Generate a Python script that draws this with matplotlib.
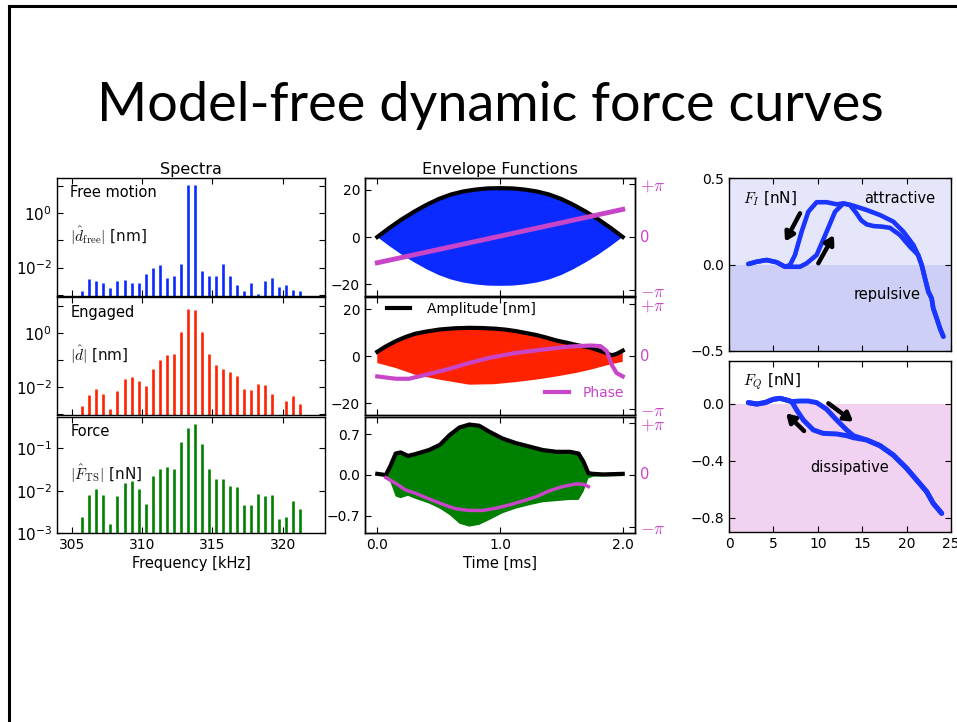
import numpy as np
import matplotlib
matplotlib.use('Agg')
import matplotlib.pyplot as plt
import matplotlib.transforms as mtransforms
from matplotlib.ticker import FixedLocator, FixedFormatter, NullLocator
from matplotlib.lines import Line2D

plt.rcParams['font.family'] = ['DejaVu Sans']
plt.rcParams['mathtext.fontset'] = 'cm'
plt.rcParams['xtick.direction'] = 'in'
plt.rcParams['ytick.direction'] = 'in'
plt.rcParams['xtick.top'] = True
plt.rcParams['ytick.right'] = True
plt.rcParams['xtick.major.size'] = 4
plt.rcParams['ytick.major.size'] = 4
plt.rcParams['xtick.labelsize'] = 10
plt.rcParams['ytick.labelsize'] = 10
plt.rcParams['axes.linewidth'] = 1.0

# ---------------- data ----------------
title = "Model-free dynamic force curves"

freqs = [305.75, 306.25, 306.75, 307.25, 307.75, 308.25, 308.75, 309.25,
         309.75, 310.25, 310.75, 311.25, 311.75, 312.25, 312.75, 313.25,
         313.75, 314.25, 314.75, 315.25, 315.75, 316.25, 316.75, 317.25,
         317.75, 318.25, 318.75, 319.25, 319.75, 320.25, 320.75, 321.25]
spec_free = [1.4e-3, 3.7e-3, 3.2e-3, 2.8e-3, 1.8e-3, 3.3e-3, 3.5e-3, 2.6e-3,
             2.8e-3, 5.9e-3, 1.0e-2, 1.3e-2, 4.0e-3, 5.1e-3, 1.35e-2, 11.0,
             11.0, 7.4e-3, 5.1e-3, 4.8e-3, 1.35e-2, 4.9e-3, 2.2e-3, 1.4e-3,
             2.8e-3, 1.1e-3, 3.2e-3, 4.2e-3, 2.0e-3, 2.2e-3, 1.5e-3, 1.35e-3]
spec_engaged = [2.0e-3, 4.9e-3, 7.9e-3, 5.3e-3, 1.5e-3, 6.9e-3, 1.9e-2, 2.2e-2,
                1.7e-2, 1.1e-2, 4.6e-2, 9.4e-2, 0.145, 0.167, 1.09, 7.5,
                7.1, 1.06, 0.167, 0.065, 0.046, 0.036, 0.024, 7.9e-3,
                7.7e-3, 1.23e-2, 1.15e-2, 5.6e-3, np.nan, 2.9e-3, 4.6e-3, 2.3e-3]
spec_force = [2.4e-3, 7.9e-3, 1.1e-2, 7.7e-3, 1.6e-3, 7.6e-3, 1.55e-2, 1.7e-2,
              1.1e-2, 4.8e-3, 2.2e-2, 3.2e-2, 3.7e-2, 3.3e-2, 0.138, 0.31,
              0.38, 0.13, 3.3e-2, 1.9e-2, 1.9e-2, 1.3e-2, 1.2e-2, 4.5e-3,
              4.6e-3, 8.3e-3, 7.6e-3, 7.9e-3, 2.1e-3, 2.4e-3, 5.8e-3, 3.7e-3]
spec_labels = ["Free motion", "Engaged", "Force"]
spec_ylabels = [r"$|\hat{d}_{\rm free}|$ [nm]", r"$|\hat{d}|$ [nm]",
                r"$|\hat{F}_{\rm TS}|$ [nN]"]

# envelope, free motion
t_free = [0.0, 0.1, 0.2, 0.3, 0.4, 0.5, 0.6, 0.7, 0.8, 0.9, 1.0,
          1.1, 1.2, 1.3, 1.4, 1.5, 1.6, 1.7, 1.8, 1.9, 2.0]
amp_free = [0.0, 3.9, 7.5, 10.7, 13.6, 16.1, 18.0, 19.3, 20.1, 20.6, 20.7,
            20.6, 20.1, 19.3, 18.0, 16.1, 13.6, 10.7, 7.5, 3.9, 0.0]
t_free_ph = [0.0, 1.0, 2.0]
ph_free = [-1.53, 0.05, 1.64]

# envelope, engaged
t_eng = [0.0, 0.07, 0.15, 0.23, 0.31, 0.41, 0.51, 0.63, 0.75, 0.86, 0.97,
         1.05, 1.13, 1.21, 1.30, 1.38, 1.46, 1.55, 1.63, 1.74, 1.84, 1.91,
         1.95, 2.0]
amp_eng = [1.9, 4.2, 6.4, 8.2, 9.6, 10.6, 11.4, 11.9, 12.1, 12.0, 11.7,
           11.3, 10.7, 9.9, 9.0, 7.9, 6.7, 5.7, 4.7, 3.6, 1.9, 0.4,
           1.0, 2.4]
t_eng_lo = [0.0, 0.15, 0.31, 0.51, 0.75, 0.95, 1.13, 1.30, 1.46, 1.62,
            1.74, 1.86, 1.95, 2.0]
lo_eng = [-2.9, -5.0, -7.9, -10.0, -12.1, -11.9, -11.0, -9.9, -8.6, -7.1,
          -5.7, -4.0, -2.9, -2.4]
t_eng_ph = [0.0, 0.15, 0.26, 0.42, 0.59, 0.75, 0.91, 1.13, 1.35, 1.57,
            1.74, 1.82, 1.87, 1.91, 1.95, 2.0]
ph_eng = [-1.2, -1.34, -1.34, -1.06, -0.74, -0.40, -0.10, 0.20, 0.40, 0.58,
          0.64, 0.60, 0.30, -0.50, -1.0, -1.2]

# envelope, force
t_frc = [0.0, 0.07, 0.11, 0.15, 0.19, 0.25, 0.31, 0.42, 0.51, 0.59, 0.67,
         0.75, 0.83, 0.91, 1.02, 1.13, 1.24, 1.35, 1.46, 1.57, 1.64, 1.68,
         1.72, 1.76, 1.84, 2.0]
amp_frc = [0.02, 0.0, 0.17, 0.37, 0.39, 0.33, 0.36, 0.43, 0.52, 0.69, 0.82,
           0.87, 0.85, 0.75, 0.63, 0.55, 0.49, 0.43, 0.40, 0.40, 0.37, 0.23,
           0.03, 0.02, 0.01, 0.02]
t_frc_lo = [0.0, 0.07, 0.11, 0.15, 0.19, 0.25, 0.31, 0.42, 0.51, 0.59, 0.67,
            0.75, 0.83, 0.91, 1.02, 1.13, 1.24, 1.35, 1.46, 1.57, 1.64, 1.68,
            1.72, 1.76, 2.0]
lo_frc = [-0.01, -0.01, -0.14, -0.37, -0.40, -0.36, -0.41, -0.49, -0.58,
          -0.69, -0.84, -0.89, -0.86, -0.78, -0.66, -0.58, -0.52, -0.47,
          -0.45, -0.43, -0.43, -0.29, -0.06, -0.03, -0.02]
t_frc_ph = [0.07, 0.15, 0.23, 0.31, 0.42, 0.53, 0.64, 0.75, 0.86, 0.97,
            1.08, 1.19, 1.30, 1.40, 1.51, 1.62, 1.68, 1.72]
ph_frc = [-0.16, -0.50, -0.90, -1.10, -1.44, -1.76, -2.04, -2.14, -2.14,
          -2.0, -1.80, -1.56, -1.30, -0.96, -0.70, -0.54, -0.56, -0.70]

# force curves (F_I, F_Q vs amplitude)
fi_x1 = [2.18, 3.12, 4.24, 5.37, 6.31, 7.06, 8.0, 8.75, 9.87, 11.0, 11.94,
         12.88, 13.6, 14.3, 14.9, 15.5, 16.3, 17.2, 18.13, 19.26, 20.38,
         21.3, 21.7, 22.07, 22.45, 22.82, 23.0, 23.39, 23.76, 24.14]
fi_y1 = [0.003, 0.016, 0.026, 0.013, -0.013, -0.013, -0.013, 0.007, 0.055,
         0.19, 0.305, 0.353, 0.345, 0.30, 0.255, 0.232, 0.222, 0.219, 0.212,
         0.17, 0.103, 0.055, -0.003, -0.08, -0.157, -0.196, -0.253, -0.311,
         -0.369, -0.417]
fi_x2 = [2.18, 3.12, 4.24, 5.37, 6.31, 6.87, 7.43, 8.18, 8.93, 9.87, 11.0,
         12.12, 12.88, 14.0, 15.5, 17.0, 18.5, 19.63, 20.76, 21.3, 21.7,
         22.07, 22.45, 22.82, 23.0, 23.39, 23.76, 24.14]
fi_y2 = [0.003, 0.016, 0.026, 0.013, -0.013, -0.003, 0.055, 0.19, 0.305,
         0.36, 0.36, 0.348, 0.353, 0.34, 0.315, 0.286, 0.248, 0.19, 0.113,
         0.055, -0.003, -0.08, -0.157, -0.196, -0.253, -0.311, -0.369, -0.417]
fq_x1 = [2.18, 3.12, 4.05, 4.99, 5.74, 6.49, 7.06, 7.62, 8.37, 9.5, 10.62,
         12.12, 13.25, 14.0, 15.5, 17.0, 18.5, 20.0, 21.13, 22.26, 23.0, 23.95]
fq_y1 = [0.008, -0.002, 0.008, 0.031, 0.038, 0.026, 0.015, -0.044, -0.114,
         -0.184, -0.208, -0.212, -0.224, -0.238, -0.254, -0.294, -0.36,
         -0.453, -0.535, -0.617, -0.699, -0.769]
fq_x2 = [2.18, 3.12, 4.05, 4.99, 5.74, 6.49, 7.06, 8.0, 8.93, 9.87, 11.0,
         12.12, 13.25, 14.0, 15.5, 17.0, 18.5, 20.0, 21.13, 22.26, 23.0, 23.95]
fq_y2 = [0.008, -0.002, 0.008, 0.031, 0.038, 0.026, 0.015, 0.019, 0.019,
         0.008, -0.039, -0.114, -0.184, -0.224, -0.254, -0.294, -0.36,
         -0.453, -0.535, -0.617, -0.699, -0.769]
fi_arrows = [((8.0, 0.296), (6.31, 0.132)), ((10.06, 0.007), (11.82, 0.17))]
fq_arrows = [((11.19, 0.003), (14.0, -0.126)), ((8.45, -0.191), (6.42, -0.067))]

# ---------------- figure ----------------
W, H = 957, 722
fig = plt.figure(figsize=(W / 100, H / 100), dpi=100)
fig.patch.set_facecolor('white')


def box(x0, y0, x1, y1):
    return [x0 / W, 1 - y1 / H, (x1 - x0) / W, (y1 - y0) / H]


# slide frame
fig.add_artist(Line2D([9 / W, 1.0], [1 - 6 / H, 1 - 6 / H], color='black', lw=2.2))
fig.add_artist(Line2D([9 / W, 9 / W], [1 - 6 / H, 0.0], color='black', lw=2.2))

# slide title
ttl = fig.text(490 / W, 1 - 121 / H, title, fontsize=40, family='Lato',
               ha='center', va='baseline', color='black')
fig.canvas.draw()
wext = ttl.get_window_extent().width
ttl.set_fontsize(40 * 786 / wext)

BLUE = '#0a2aff'
RED = '#ff2200'
GREEN = '#008000'
MAG = '#c844c8'

# ---- spectra ----
spec_rows = [(178, 296), (297.5, 415), (417, 533)]
spec_data = [spec_free, spec_engaged, spec_force]
spec_colors = [BLUE, RED, GREEN]
spec_ylims = [(9e-4, 20), (9e-4, 20), (1e-3, 0.55)]
spec_ticks = [[1e-3, 1e-2, 1e-1, 1e0, 1e1], [1e-3, 1e-2, 1e-1, 1e0, 1e1],
              [1e-3, 1e-2, 1e-1]]
spec_ticklabels = [['', r'$\mathdefault{10^{-2}}$', '', r'$\mathdefault{10^{0}}$', ''],
                   ['', r'$\mathdefault{10^{-2}}$', '', r'$\mathdefault{10^{0}}$', ''],
                   [r'$\mathdefault{10^{-3}}$', r'$\mathdefault{10^{-2}}$',
                    r'$\mathdefault{10^{-1}}$']]
spec_axes = []
for i, (y0, y1) in enumerate(spec_rows):
    ax = fig.add_axes(box(57, y0, 325, y1))
    vals = np.array(spec_data[i], dtype=float)
    f = np.array(freqs)
    m = ~np.isnan(vals)
    ax.vlines(f[m], 1e-5, vals[m], color=spec_colors[i], lw=1.9)
    ax.set_yscale('log')
    ax.set_ylim(*spec_ylims[i])
    ax.set_xlim(303.95, 323.0)
    ax.yaxis.set_major_locator(FixedLocator(spec_ticks[i]))
    ax.yaxis.set_major_formatter(FixedFormatter(spec_ticklabels[i]))
    ax.yaxis.set_minor_locator(NullLocator())
    ax.tick_params(axis='y', labelsize=11)
    ax.set_xticks([305, 310, 315, 320])
    if i < 2:
        ax.set_xticklabels([])
    ax.text(0.049, 0.873, spec_labels[i], transform=ax.transAxes,
            fontsize=10.5, ha='left', va='center')
    ax.text(0.049, 0.51, spec_ylabels[i], transform=ax.transAxes,
            fontsize=11, ha='left', va='center', color='#111111')
    spec_axes.append(ax)
spec_axes[0].set_title('Spectra', fontsize=11.5, pad=3)
spec_axes[2].set_xlabel('Frequency [kHz]', fontsize=10.5, labelpad=3)

# ---- envelopes ----
env_axes = []
env_twins = []
for i, (y0, y1) in enumerate(spec_rows):
    ax = fig.add_axes(box(365, y0, 635, y1))
    ax.set_xlim(-0.1, 2.1)
    ax.set_xticks([0.0, 1.0, 2.0])
    ax2 = ax.twinx()
    ax2.set_ylim(-3.5, 3.5)
    ax2.set_yticks([-np.pi, 0, np.pi])
    ax2.set_yticklabels([r'$-\pi$', '', r'$+\pi$'])
    ax2.tick_params(axis='y', labelcolor=MAG, color='black', labelsize=12.5)
    trans = mtransforms.blended_transform_factory(ax2.transAxes, ax2.transData)
    ax2.text(1.02, 0.0, '0', transform=trans, color=MAG, fontsize=10.5,
             ha='left', va='center')
    env_axes.append(ax)
    env_twins.append(ax2)

# free
ax, ax2 = env_axes[0], env_twins[0]
ax.fill(np.concatenate([t_free, t_free[::-1]]),
        np.concatenate([amp_free, -np.array(amp_free[::-1])]),
        color=BLUE, lw=0)
ax.plot(t_free, amp_free, color='black', lw=3)
ax2.plot(t_free_ph, ph_free, color=MAG, lw=3.5)
ax.set_ylim(-25, 25)
ax.set_yticks([-20, 0, 20])
ax.set_xticklabels([])
ax.set_title('Envelope Functions', fontsize=11.5, pad=3)

# engaged
ax, ax2 = env_axes[1], env_twins[1]
ax.fill(np.concatenate([t_eng, t_eng_lo[::-1]]),
        np.concatenate([amp_eng, lo_eng[::-1]]), color=RED, lw=0)
la, = ax.plot(t_eng, amp_eng, color='black', lw=3, label='Amplitude [nm]')
lp, = ax2.plot(t_eng_ph, ph_eng, color=MAG, lw=3, label='Phase')
ax.set_ylim(-25, 25)
ax.set_yticks([-20, 0, 20])
ax.set_xticklabels([])
leg1 = ax.legend(handles=[la], loc='upper left', bbox_to_anchor=(0.065, 1.0),
                 frameon=False, fontsize=10, handlelength=1.7,
                 handletextpad=1.2, borderaxespad=0.1, borderpad=0.2)
leg2 = ax2.legend(handles=[lp], loc='lower right', bbox_to_anchor=(0.975, 0.09),
                  frameon=False, fontsize=10, handlelength=1.7,
                  handletextpad=1.0, borderaxespad=0.1, borderpad=0.2)
for txt in leg2.get_texts():
    txt.set_color(MAG)

# force
ax, ax2 = env_axes[2], env_twins[2]
ax.fill(np.concatenate([t_frc, t_frc_lo[::-1]]),
        np.concatenate([amp_frc, lo_frc[::-1]]), color=GREEN, lw=0)
ax.plot(t_frc, amp_frc, color='black', lw=3)
ax2.plot(t_frc_ph, ph_frc, color=MAG, lw=2.5)
ax.set_ylim(-1.0, 1.0)
ax.set_yticks([-0.7, 0.0, 0.7])
ax.set_yticklabels(['\u22120.7', '0.0', '0.7'])
ax.set_xticklabels(['0.0', '1.0', '2.0'])
ax.set_xlabel('Time [ms]', fontsize=10.5, labelpad=3)

# ---- force curves ----
CURVE = '#1a35ff'
axi = fig.add_axes(box(729, 178, 951, 351))
axi.axhspan(0, 0.5, color='#e6e6fb', lw=0, zorder=0)
axi.axhspan(-0.5, 0, color='#cdcff6', lw=0, zorder=0)
axi.plot(fi_x1, fi_y1, color=CURVE, lw=3.3, solid_capstyle='round',
         solid_joinstyle='round')
axi.plot(fi_x2, fi_y2, color=CURVE, lw=3.3, solid_capstyle='round',
         solid_joinstyle='round')
axi.set_xlim(0, 25)
axi.set_ylim(-0.5, 0.5)
axi.set_yticks([-0.5, 0.0, 0.5])
axi.set_yticklabels(['\u22120.5', '0.0', '0.5'])
axi.set_xticks([0, 5, 10, 15, 20, 25])
axi.set_xticklabels([])
for s, e in fi_arrows:
    axi.annotate('', xy=e, xytext=s,
                 arrowprops=dict(arrowstyle='-|>,head_length=0.5,head_width=0.3',
                                 lw=3.2, color='black', shrinkA=0, shrinkB=0))
axi.text(1.6, 0.382, r'$F_I$ [nN]', fontsize=11, ha='left', va='center')
axi.text(19.26, 0.382, 'attractive', fontsize=10.5, ha='center', va='center')
axi.text(17.8, -0.172, 'repulsive', fontsize=10.5, ha='center', va='center')

axq = fig.add_axes(box(729, 361, 951, 532))
axq.axhspan(-0.9, 0, color='#f1d2f1', lw=0, zorder=0)
axq.plot(fq_x1, fq_y1, color=CURVE, lw=3.6, solid_capstyle='round',
         solid_joinstyle='round')
axq.plot(fq_x2, fq_y2, color=CURVE, lw=3.6, solid_capstyle='round',
         solid_joinstyle='round')
axq.set_xlim(0, 25)
axq.set_ylim(-0.9, 0.3)
axq.set_yticks([-0.8, -0.4, 0.0])
axq.set_yticklabels(['\u22120.8', '\u22120.4', '0.0'])
axq.set_xticks([0, 5, 10, 15, 20, 25])
for s, e in fq_arrows:
    axq.annotate('', xy=e, xytext=s,
                 arrowprops=dict(arrowstyle='-|>,head_length=0.5,head_width=0.3',
                                 lw=3.2, color='black', shrinkA=0, shrinkB=0))
axq.text(1.6, 0.155, r'$F_Q$ [nN]', fontsize=11, ha='left', va='center')
axq.text(13.6, -0.448, 'dissipative', fontsize=10.5, ha='center', va='center')

fig.savefig('out.png', dpi=100, facecolor='white')
